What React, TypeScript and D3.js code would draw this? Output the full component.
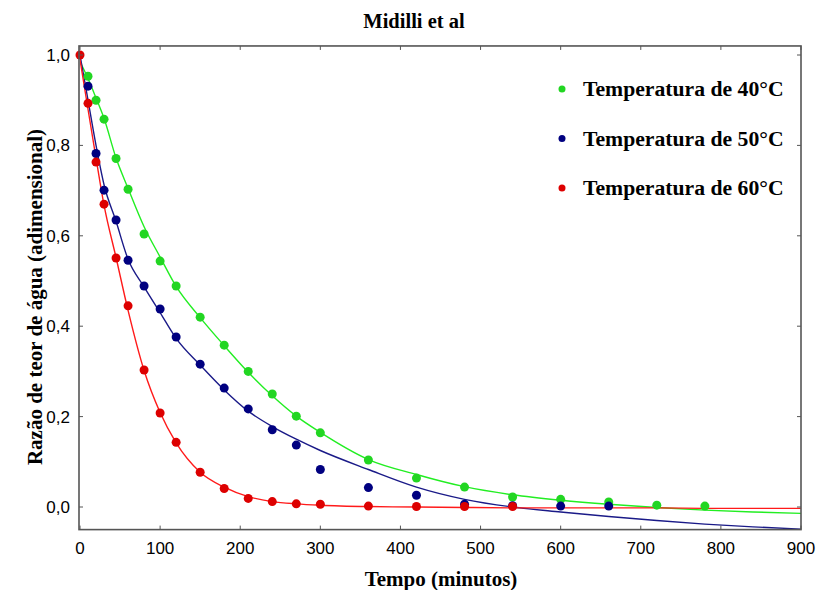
import React from 'react';
import * as d3 from 'd3';

// tempos de amostragem (min)
const tempos = [0, 10, 20, 30, 45, 60, 80, 100, 120, 150, 180, 210, 240, 270, 300, 360, 420, 480, 540, 600, 660, 720, 780];

const obs40 = [null, 0.953, 0.9, 0.858, 0.771, 0.703, 0.604, 0.544, 0.489, 0.42, 0.358, 0.3, 0.25, 0.201, 0.164, 0.104, 0.064, 0.044, 0.022, 0.017, 0.011, 0.004, 0.002];
const obs50 = [null, 0.931, 0.782, 0.701, 0.635, 0.546, 0.489, 0.438, 0.376, 0.316, 0.263, 0.217, 0.171, 0.137, 0.083, 0.043, 0.026, 0.006, 0.003, 0.002, 0.002, null, null];
const obs60 = [1.0, 0.893, 0.763, 0.67, 0.551, 0.445, 0.303, 0.208, 0.143, 0.077, 0.041, 0.019, 0.012, 0.007, 0.006, 0.002, 0.001, 0.001, 0.001, null, null, null, null];

// curvas ajustadas (Midilli)
const tempoAjuste = [0, 10, 20, 30, 45, 60, 80, 100, 120, 150, 180, 210, 240, 270, 300, 360, 420, 480, 540, 600, 660, 720, 780, 840, 900];
const ajuste40 = [0.985, 0.948, 0.905, 0.86, 0.772, 0.705, 0.62, 0.553, 0.488, 0.419, 0.357, 0.298, 0.246, 0.201, 0.165, 0.105, 0.072, 0.045, 0.027, 0.015, 0.006, -0.001, -0.007, -0.011, -0.014];
const ajuste50 = [1.0, 0.9, 0.8, 0.713, 0.632, 0.548, 0.487, 0.43, 0.373, 0.314, 0.259, 0.212, 0.178, 0.15, 0.125, 0.083, 0.044, 0.017, 0.0, -0.011, -0.021, -0.03, -0.038, -0.044, -0.049];
const ajuste60 = [0.99, 0.88, 0.772, 0.668, 0.552, 0.435, 0.302, 0.209, 0.142, 0.077, 0.044, 0.023, 0.012, 0.007, 0.004, 0.001, 0.0, -0.001, -0.002, -0.002, -0.002, -0.002, -0.003, -0.003, -0.003];

const xTicks = [0, 100, 200, 300, 400, 500, 600, 700, 800, 900];
const yTicks = [0, 0.2, 0.4, 0.6, 0.8, 1.0];

const series = [
  { nome: 'Temperatura de 40°C', obs: obs40, ajuste: ajuste40, ponto: '#22d622', linha: '#22ee22' },
  { nome: 'Temperatura de 50°C', obs: obs50, ajuste: ajuste50, ponto: '#000080', linha: '#1a1a88' },
  { nome: 'Temperatura de 60°C', obs: obs60, ajuste: ajuste60, ponto: '#dd0000', linha: '#ff1a1a' },
];

const serif = '"Liberation Serif", "Times New Roman", serif';
const sans = '"Liberation Sans", Arial, sans-serif';

export default function App() {
  const W = 818, H = 590;
  const left = 80, right = 801;
  const x = d3.scaleLinear().domain([0, 900]).range([left, right]);
  const y = d3.scaleLinear().domain([0, 1]).range([507, 55]);
  const top = y(1.02), bottom = y(-0.05);

  const line = d3.line<[number, number]>()
    .x(d => x(d[0]))
    .y(d => y(d[1]))
    .curve(d3.curveMonotoneX);

  const tick = 4;

  return (
    <svg width={W} height={H} style={{ position: 'absolute', left: 0, top: 0, background: '#fff' }}>
      <defs>
        <clipPath id="plot">
          <rect x={left} y={top} width={right - left} height={bottom - top} />
        </clipPath>
      </defs>

      <text x={414} y={28} textAnchor="middle" fontFamily={serif} fontWeight="bold" fontSize={20.5}>Midilli et al</text>

      <g clipPath="url(#plot)">
        {series.map(s => (
          <path key={s.nome + 'l'} d={line(tempoAjuste.map((t, i) => [t, s.ajuste[i]]))!}
            fill="none" stroke={s.linha} strokeWidth={1.4} />
        ))}
      </g>
      {series.map(s => (
        <g key={s.nome + 'p'}>
          {tempos.map((t, i) => s.obs[i] == null ? null : (
            <circle key={t} cx={x(t)} cy={y(s.obs[i] as number)} r={4.5} fill={s.ponto} />
          ))}
        </g>
      ))}

      {/* moldura */}
      <rect x={left - 1} y={top} width={right - left + 1} height={bottom - top} fill="none" stroke="#555" strokeWidth={1.6} />
      {xTicks.map(v => (
        <g key={'x' + v}>
          <line x1={x(v)} x2={x(v)} y1={bottom} y2={bottom - tick} stroke="#555" />
          <line x1={x(v)} x2={x(v)} y1={top} y2={top + tick} stroke="#555" />
          <text x={x(v)} y={554} textAnchor="middle" fontFamily={sans} fontSize={17}>{v}</text>
        </g>
      ))}
      {yTicks.map(v => (
        <g key={'y' + v}>
          <line x1={left - 1} x2={left - 1 + tick} y1={y(v)} y2={y(v)} stroke="#555" />
          <line x1={right} x2={right - tick} y1={y(v)} y2={y(v)} stroke="#555" />
          <text x={70} y={y(v) + 6} textAnchor="end" fontFamily={sans} fontSize={17}>{v.toFixed(1).replace('.', ',')}</text>
        </g>
      ))}

      <text x={441} y={586} textAnchor="middle" fontFamily={serif} fontWeight="bold" fontSize={21}>Tempo (minutos)</text>
      <text transform="translate(42,297) rotate(-90)" textAnchor="middle" fontFamily={serif} fontWeight="bold" fontSize={21}>
        Razão de teor de água (adimensional)
      </text>

      {series.map((s, i) => (
        <g key={s.nome + 'g'} transform={`translate(562,${89 + i * 49.5})`}>
          <circle cx={0} cy={0} r={3.5} fill={s.ponto} />
          <text x={21} y={7} fontFamily={serif} fontWeight="bold" fontSize={21.7}>{s.nome}</text>
        </g>
      ))}
    </svg>
  );
}
